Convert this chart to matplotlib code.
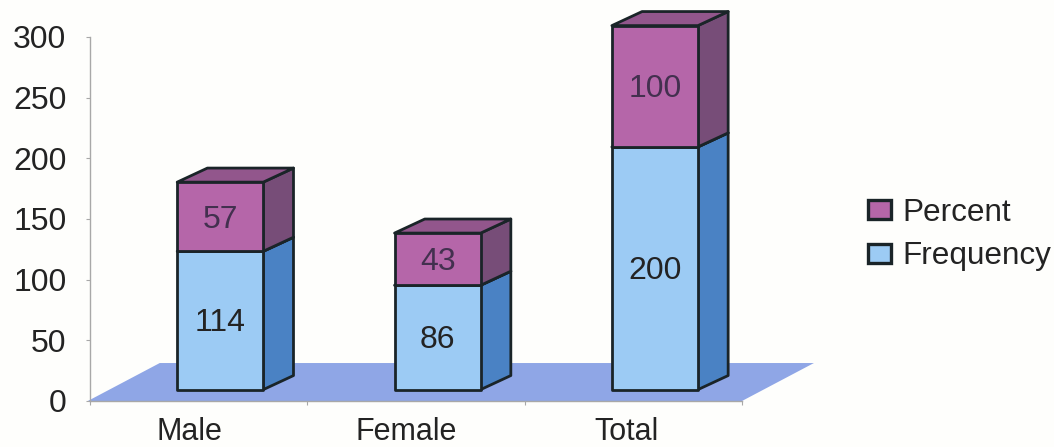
import matplotlib
matplotlib.use("Agg")
import matplotlib.pyplot as plt
from matplotlib.patches import Polygon, Patch
from matplotlib.transforms import ScaledTranslation

plt.rcParams["font.family"] = ["Liberation Sans", "DejaVu Sans"]

categories = ["Male", "Female", "Total"]
frequency = [114, 86, 200]
percent = [57, 43, 100]
y_ticks = [0, 50, 100, 150, 200, 250, 300]

# Oblique projection used for the floor and the boxes
DEPTH_X = 0.331
DEPTH_Y = 31.3
FRONT = 0.30
BACK = 0.72
BACK_RISE = 0.67
HALF_WIDTH = 0.198

FREQ_FRONT, FREQ_SIDE, FREQ_TOP = "#9CCBF4", "#4A82C4", "#7FB2E8"
PCT_FRONT, PCT_SIDE, PCT_TOP = "#B566A9", "#774D78", "#92568C"
EDGE = "#1A2428"
FONT_PT = 23
TEXT = "#232323"
LABEL_SHIFT_PX = [-9, -10, -7]


def front(x, y):
    return (x + FRONT * DEPTH_X, y + FRONT * DEPTH_Y)


def rear(x, y):
    return (x + BACK * DEPTH_X, y + BACK_RISE * DEPTH_Y)


def box(ax, center, low, high, front_c, side_c, top_c, z):
    xl, xr = center - HALF_WIDTH, center + HALF_WIDTH
    faces = [
        ([front(xr, low), rear(xr, low), rear(xr, high), front(xr, high)], side_c),
        ([front(xl, high), front(xr, high), rear(xr, high), rear(xl, high)], top_c),
        ([front(xl, low), front(xr, low), front(xr, high), front(xl, high)], front_c),
    ]
    for verts, colour in faces:
        ax.add_patch(Polygon(verts, closed=True, facecolor=colour, edgecolor=EDGE,
                             linewidth=2.0, joinstyle="round", clip_on=False, zorder=z))


fig = plt.figure(figsize=(10.54, 4.47), dpi=100, facecolor="#FEFEFC")
ax = fig.add_axes([90 / 1054, 46 / 447, 652 / 1054, 364 / 447])
ax.set_facecolor("none")
ax.set_xlim(-0.5, 2.5)
ax.set_ylim(0, 300)

# Floor
floor = [(-0.51, 0), (2.5, 0), (2.5 + DEPTH_X, DEPTH_Y), (-0.51 + DEPTH_X, DEPTH_Y)]
ax.add_patch(Polygon(floor, closed=True, facecolor="#8FA6E6", edgecolor="none",
                     clip_on=False, zorder=1))

# Value labels sit slightly below the middle of each front face
value_drop = ScaledTranslation(0, -3 / 100, fig.dpi_scale_trans)

# Stacked boxes and their value labels
for i, (f, p) in enumerate(zip(frequency, percent)):
    box(ax, i, 0, f, FREQ_FRONT, FREQ_SIDE, FREQ_TOP, 3)
    box(ax, i, f, f + p, PCT_FRONT, PCT_SIDE, PCT_TOP, 4)
    fx, fy = front(i, f / 2)
    ax.text(fx, fy, str(f), ha="center", va="center", fontsize=FONT_PT,
            color=TEXT, zorder=6, transform=ax.transData + value_drop)
    px, py = front(i, f + p / 2)
    ax.text(px, py, str(p), ha="center", va="center", fontsize=FONT_PT,
            color="#43304F", zorder=6, transform=ax.transData + value_drop)

# Axes
for side in ("top", "right"):
    ax.spines[side].set_visible(False)
for side in ("left", "bottom"):
    ax.spines[side].set_color("#A8A8A8")
    ax.spines[side].set_linewidth(1.0)
ax.set_yticks(y_ticks)
ax.tick_params(axis="y", length=3, width=0.8, color="#A8A8A8", pad=14,
               labelsize=FONT_PT, labelcolor=TEXT)
ax.set_xticks([-0.5, 0.5, 1.5, 2.5])
ax.set_xticklabels([])
ax.tick_params(axis="x", length=3, width=0.8, color="#A8A8A8")

for i, name in enumerate(categories):
    shift = ScaledTranslation(LABEL_SHIFT_PX[i] / 100, 0, fig.dpi_scale_trans)
    ax.text(i, -32, name, ha="center", va="baseline", fontsize=22, color=TEXT,
            transform=ax.transData + shift, clip_on=False)

# Legend
handles = [Patch(facecolor=PCT_FRONT, edgecolor=EDGE, linewidth=2.4, label="Percent"),
           Patch(facecolor=FREQ_FRONT, edgecolor=EDGE, linewidth=2.4, label="Frequency")]
fig.legend(handles=handles, loc="upper left", bbox_to_anchor=(868 / 1054, 1 - 198 / 447),
           bbox_transform=fig.transFigure, frameon=False, fontsize=FONT_PT - 0.3,
           labelcolor=TEXT, handlelength=0.72, handleheight=0.55, handletextpad=0.38,
           labelspacing=0.42, borderpad=0, borderaxespad=0)

fig.savefig("out.png", dpi=100, facecolor=fig.get_facecolor())
